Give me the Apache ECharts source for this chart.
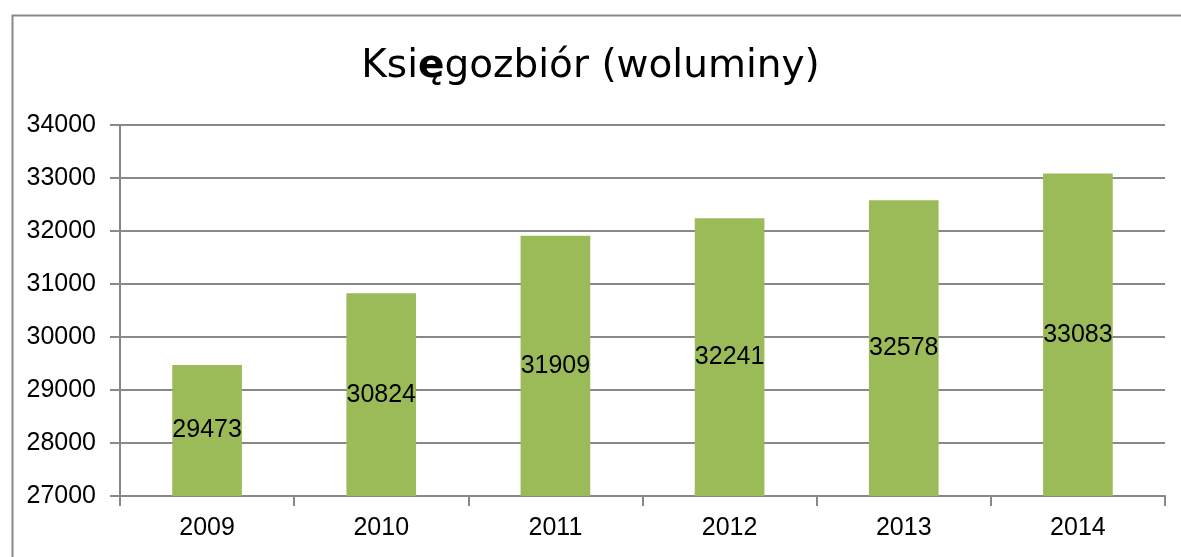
<!DOCTYPE html>
<html>
<head>
<meta charset="utf-8">
<script src="https://cdn.jsdelivr.net/npm/echarts@6/dist/echarts.min.js"></script>
<style>
  html, body { margin: 0; padding: 0; background: #fff; }
  #chart { width: 1181px; height: 557px; }
</style>
</head>
<body>
<div id="chart"></div>
<script>
// dane z wykresu
const years = ['2009', '2010', '2011', '2012', '2013', '2014']
const volumes = [29473, 30824, 31909, 32241, 32578, 33083]
const yMin = 27000
const yMax = 34000
const yStep = 1000

const chart = echarts.init(document.getElementById('chart'))
const lineColor = '#888888'
const textFont = 'Liberation Sans'

chart.setOption({
  animation: false,
  backgroundColor: '#ffffff',
  title: {
    text: 'Ksi{b|ę}gozbiór (woluminy)',
    left: 'center',
    top: 42,
    textStyle: {
      fontFamily: 'DejaVu Sans',
      fontSize: 39,
      fontWeight: 'normal',
      color: '#000',
      rich: {
        b: { fontFamily: 'DejaVu Sans', fontSize: 39, fontWeight: 'bold', color: '#000' }
      }
    }
  },
  // ramka wykresu
  graphic: [{
    type: 'rect',
    left: 10,
    top: 13,
    shape: { width: 1300, height: 700 },
    style: { fill: 'none', stroke: lineColor, lineWidth: 2 },
    silent: true
  }],
  grid: {
    left: 120,
    right: 16,
    top: 125,
    bottom: 61,
    containLabel: false
  },
  xAxis: {
    type: 'category',
    data: years,
    axisLine: { lineStyle: { color: lineColor, width: 2 } },
    axisTick: { show: true, alignWithLabel: false, length: 10, lineStyle: { color: lineColor, width: 2 } },
    axisLabel: { fontFamily: textFont, fontSize: 25, color: '#000', margin: 20 }
  },
  yAxis: {
    type: 'value',
    min: yMin,
    max: yMax,
    interval: yStep,
    axisLine: { show: true, lineStyle: { color: lineColor, width: 2 } },
    axisTick: { show: true, length: 10, lineStyle: { color: lineColor, width: 2 } },
    splitLine: { show: true, lineStyle: { color: lineColor, width: 2 } },
    axisLabel: {
      fontFamily: textFont, fontSize: 25, color: '#000', margin: 24,
      formatter: v => String(v)
    }
  },
  series: [{
    type: 'bar',
    data: volumes,
    barWidth: '40%',
    itemStyle: { color: '#9bbb59' },
    label: {
      show: true,
      position: 'inside',
      fontFamily: textFont,
      fontSize: 25,
      color: '#000'
    }
  }]
})
</script>
</body>
</html>
